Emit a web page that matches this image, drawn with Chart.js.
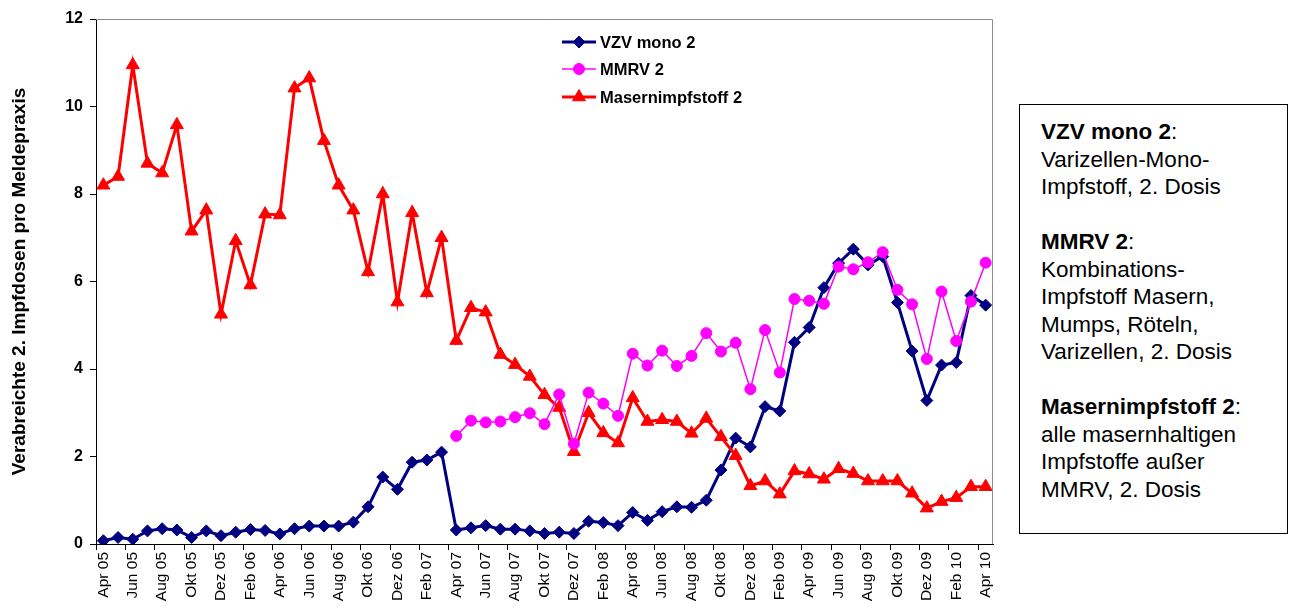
<!DOCTYPE html>
<html>
<head>
<meta charset="utf-8">
<script src="https://cdn.jsdelivr.net/npm/chart.js@4"></script>
<style>
  html, body { margin: 0; padding: 0; background: #fff; }
  #wrap { position: relative; width: 1291px; height: 608px; }
  #c { position: absolute; left: 0; top: 0; }
  #note {
    position: absolute; left: 1019px; top: 104px; width: 269px; height: 430px;
    box-sizing: border-box; border: 1.5px solid #000; background: #fff;
    font-family: "Liberation Sans", Arial, sans-serif; font-size: 22.5px; line-height: 27.5px;
    color: #000; padding: 13px 0 0 21px;
  }
  #note b { font-weight: bold; }
</style>
</head>
<body>
<div id="wrap">
  <canvas id="c" width="1291" height="608"></canvas>
  <div id="note">
    <b>VZV mono 2</b>:<br>Varizellen-Mono-<br>Impfstoff, 2. Dosis<br><br>
    <b>MMRV 2</b>:<br>Kombinations-<br>Impfstoff Masern,<br>Mumps, Röteln,<br>Varizellen, 2. Dosis<br><br>
    <b>Masernimpfstoff 2</b>:<br>alle masernhaltigen<br>Impfstoffe außer<br>MMRV, 2. Dosis
  </div>
</div>
<script>
const categories = [
  'Apr 05','Mai 05','Jun 05','Jul 05','Aug 05','Sep 05','Okt 05','Nov 05','Dez 05',
  'Jan 06','Feb 06','Mrz 06','Apr 06','Mai 06','Jun 06','Jul 06','Aug 06','Sep 06','Okt 06','Nov 06','Dez 06',
  'Jan 07','Feb 07','Mrz 07','Apr 07','Mai 07','Jun 07','Jul 07','Aug 07','Sep 07','Okt 07','Nov 07','Dez 07',
  'Jan 08','Feb 08','Mrz 08','Apr 08','Mai 08','Jun 08','Jul 08','Aug 08','Sep 08','Okt 08','Nov 08','Dez 08',
  'Jan 09','Feb 09','Mrz 09','Apr 09','Mai 09','Jun 09','Jul 09','Aug 09','Sep 09','Okt 09','Nov 09','Dez 09',
  'Jan 10','Feb 10','Mrz 10','Apr 10'
];

const vzvMono2 = [
  0.075,0.15,0.11,0.30,0.35,0.32,0.15,0.30,0.19,0.27,0.33,0.31,0.23,0.35,0.41,0.41,0.41,0.50,0.85,1.53,1.25,1.87,1.92,2.10,
  0.32,0.37,0.42,0.34,0.34,0.30,0.24,0.27,0.24,0.52,0.49,0.42,0.72,0.54,0.74,0.85,0.84,1.00,1.69,
  2.42,2.22,3.14,3.04,4.61,4.95,5.86,6.42,6.74,6.38,6.57,5.52,4.41,3.28,4.09,4.15,5.68,5.46
];

const mmrv2 = [
  null,null,null,null,null,null,null,null,null,null,null,null,null,null,null,null,null,null,null,null,null,null,null,null,
  2.47,2.82,2.78,2.80,2.90,2.99,2.74,3.42,2.29,3.46,3.21,2.93,4.35,4.08,4.42,4.07,4.30,4.82,4.40,
  4.60,3.54,4.89,3.92,5.60,5.56,5.49,6.34,6.28,6.44,6.67,5.81,5.48,4.23,5.77,4.64,5.54,6.43
];

const masern2 = [
  8.20,8.40,10.95,8.70,8.48,9.58,7.15,7.63,5.25,6.93,5.92,7.54,7.52,10.42,10.65,9.22,8.20,7.63,6.22,8.00,5.53,7.57,5.74,7.00,
  4.65,5.40,5.30,4.33,4.10,3.83,3.41,3.12,2.11,3.00,2.54,2.31,3.34,2.80,2.84,2.80,2.53,2.87,2.45,
  2.02,1.33,1.44,1.14,1.67,1.60,1.48,1.72,1.61,1.44,1.44,1.44,1.16,0.82,0.97,1.06,1.31,1.31
];

const yTicks = [0, 2, 4, 6, 8, 10, 12];
const seriesNames = ['VZV mono 2', 'MMRV 2', 'Masernimpfstoff 2'];

const FONT = '"Liberation Sans", Arial, sans-serif';

const frameAndLegend = {
  id: 'frameAndLegend',
  afterDraw(chart) {
    const ctx = chart.ctx;
    const a = chart.chartArea;
    ctx.save();
    // grey top and right frame
    ctx.strokeStyle = '#8c8c8c';
    ctx.lineWidth = 1;
    ctx.beginPath();
    ctx.moveTo(a.left, a.top + 0.5);
    ctx.lineTo(a.right - 0.5, a.top + 0.5);
    ctx.lineTo(a.right - 0.5, a.bottom);
    ctx.stroke();
    // legend
    const ys = [42, 69, 97];
    [0, 1, 2].forEach((di, k) => {
      const ds = chart.data.datasets[di];
      const y = ys[k];
      ctx.strokeStyle = ds.borderColor;
      ctx.lineWidth = ds.borderWidth;
      ctx.beginPath();
      ctx.moveTo(562, y);
      ctx.lineTo(596, y);
      ctx.stroke();
      ctx.fillStyle = ds.pointBackgroundColor;
      ctx.strokeStyle = ds.pointBorderColor;
      ctx.lineWidth = 1;
      Chart.helpers.drawPoint(ctx, {
        pointStyle: ds.pointStyle, radius: ds.pointRadius, borderWidth: 1, rotation: 0
      }, 579, y);
      ctx.fillStyle = '#000';
      ctx.font = 'bold 16.5px ' + FONT;
      ctx.textAlign = 'left';
      ctx.textBaseline = 'middle';
      ctx.fillText(ds.label, 600, y + 1);
    });
    ctx.restore();
  }
};

new Chart(document.getElementById('c'), {
  type: 'line',
  data: {
    labels: categories,
    datasets: [
      {
        label: seriesNames[0], data: vzvMono2,
        borderColor: '#000080', backgroundColor: '#000080', borderWidth: 3,
        pointStyle: 'rectRot', pointRadius: 6, pointBackgroundColor: '#000080', pointBorderColor: '#000080',
        pointBorderWidth: 1, tension: 0, order: 3
      },
      {
        label: seriesNames[1], data: mmrv2,
        borderColor: '#ff00ff', backgroundColor: '#ff00ff', borderWidth: 1.5,
        pointStyle: 'circle', pointRadius: 5.5, pointBackgroundColor: '#ff00ff', pointBorderColor: '#ff00ff',
        pointBorderWidth: 1, tension: 0, order: 1
      },
      {
        label: seriesNames[2], data: masern2,
        borderColor: '#ff0000', backgroundColor: '#ff0000', borderWidth: 3,
        pointStyle: 'triangle', pointRadius: 7.5, pointBackgroundColor: '#ff0000', pointBorderColor: '#ff0000',
        pointBorderWidth: 1, tension: 0, order: 2
      }
    ]
  },
  options: {
    responsive: false,
    animation: false,
    devicePixelRatio: 1,
    layout: { padding: { left: 0, top: 19, right: 298, bottom: 0 } },
    plugins: { legend: { display: false }, tooltip: { enabled: false } },
    scales: {
      x: {
        type: 'category',
        offset: true,
        afterFit(scale) { scale.height = 64; },
        border: { display: true, color: '#000', width: 1 },
        grid: {
          display: true, drawOnChartArea: false, offset: true, tickLength: 6, lineWidth: 1,
          color: (c) => (c.index % 2 === 0 ? '#000' : 'rgba(0,0,0,0)')
        },
        ticks: {
          autoSkip: false, minRotation: 90, maxRotation: 90, padding: 2,
          color: '#000', font: { family: FONT, size: 15.5 },
          callback(v, i) { return i % 2 === 0 ? this.getLabelForValue(v) : ''; }
        }
      },
      y: {
        min: 0, max: 12,
        afterFit(scale) { scale.width = 96; },
        afterBuildTicks(scale) { scale.ticks = yTicks.map(v => ({ value: v })); },
        border: { display: true, color: '#000', width: 1 },
        grid: { display: true, drawOnChartArea: false, tickLength: 6, color: '#000', lineWidth: 1 },
        ticks: { color: '#000', padding: 7, font: { family: FONT, size: 16, weight: 'bold' } },
        title: {
          display: true, text: 'Verabreichte 2. Impfdosen pro Meldepraxis',
          color: '#000', font: { family: FONT, size: 19, weight: 'bold' },
          padding: { top: 8, bottom: 0 }
        }
      }
    }
  },
  plugins: [frameAndLegend]
});
</script>
</body>
</html>
